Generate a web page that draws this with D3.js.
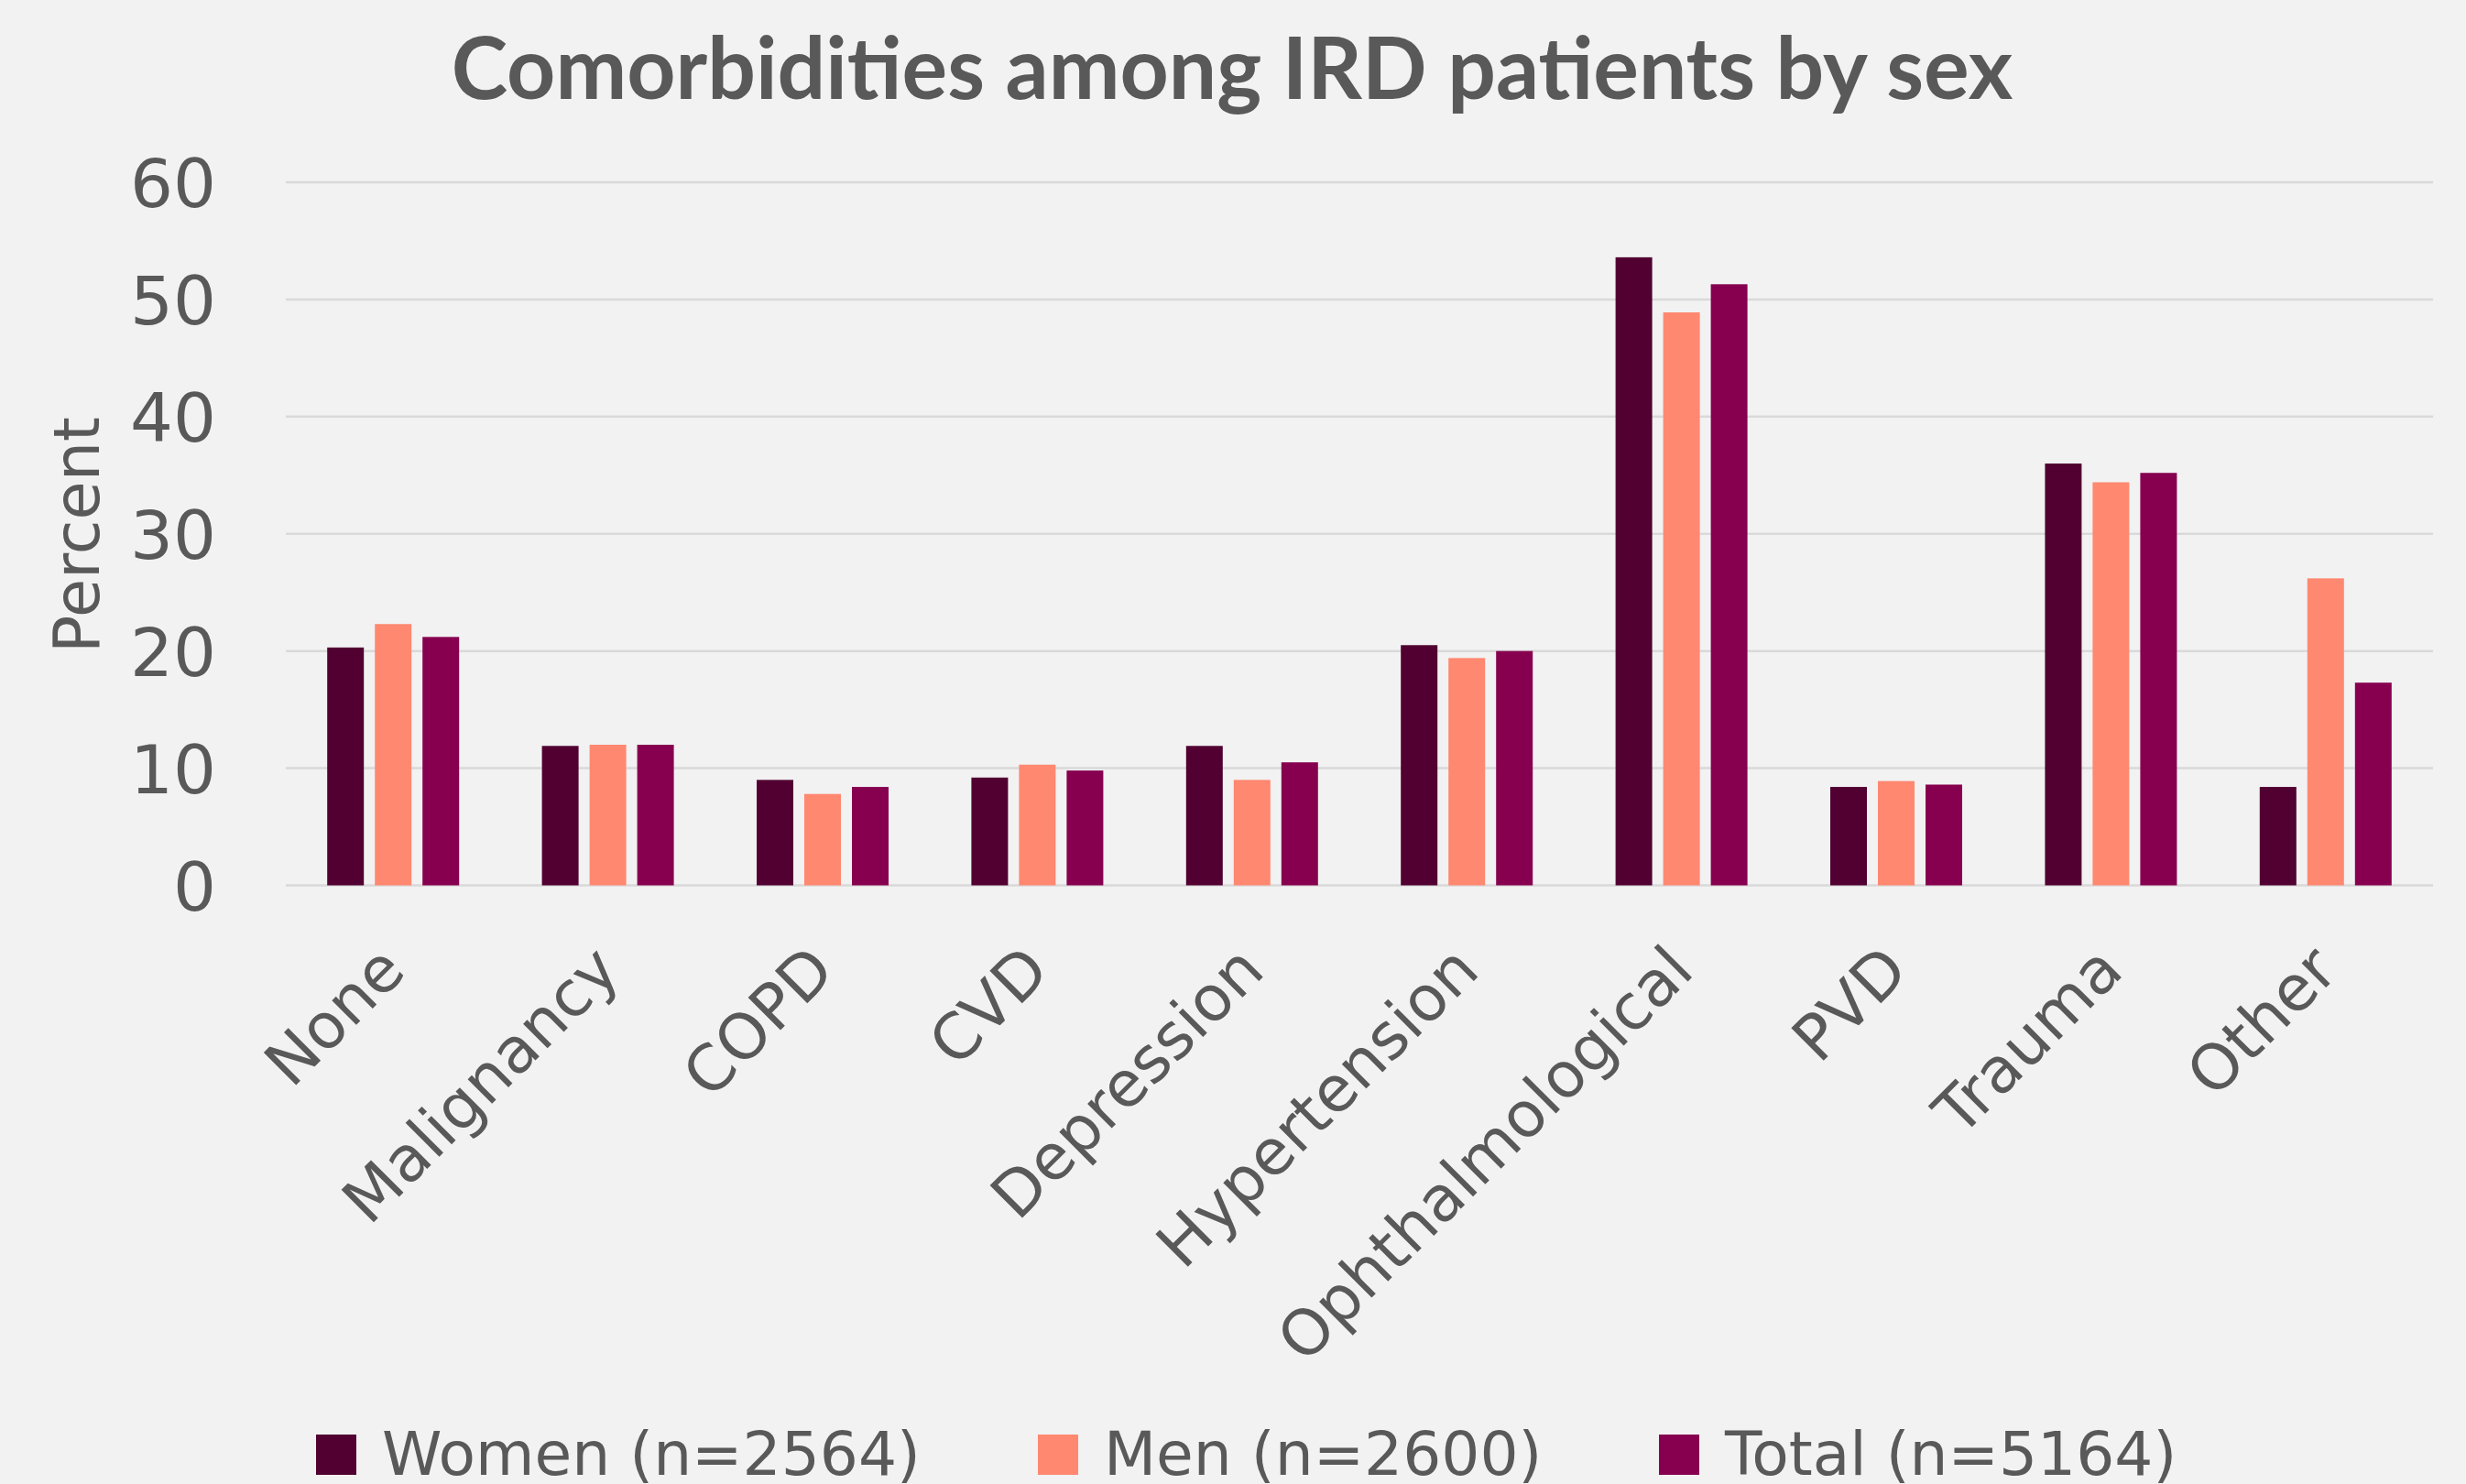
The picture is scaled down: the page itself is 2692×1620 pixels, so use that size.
<!DOCTYPE html>
<html><head><meta charset="utf-8">
<script src="https://cdn.jsdelivr.net/npm/d3@7"></script>
<style>html,body{margin:0;padding:0;background:#f2f2f2;}svg{display:block;}</style>
</head><body>
<script>
const categories = ["None","Malignancy","COPD","CVD","Depression","Hypertension","Ophthalmological","PVD","Trauma","Other"];
const seriesNames = ["Women (n=2564)","Men (n=2600)","Total (n=5164)"];
const women = [20.3,11.9,9.0,9.2,11.9,20.5,53.6,8.4,36.0,8.4];
const men   = [22.3,12.0,7.8,10.3,9.0,19.4,48.9,8.9,34.4,26.2];
const total = [21.2,12.0,8.4,9.8,10.5,20.0,51.3,8.6,35.2,17.3];
const yTicks = [0,10,20,30,40,50,60];
const colors = ["#510031","#ff8870","#870050"];
const titleText = "Comorbidities among IRD patients by sex";
const yTitle = "Percent";

const W = 2692, H = 1620;
const m = {left:312, right:W-2656, top:199, bottom:H-966.5};
const svg = d3.select("body").append("svg").attr("width",W).attr("height",H);
svg.append("rect").attr("width",W).attr("height",H).attr("fill","#f2f2f2");
const font = "'DejaVu Sans', Lato, sans-serif";
const tfont = "Lato, 'Open Sans', sans-serif";
const txt = "#595959";

function fit(sel, base, target){
  sel.attr("font-size", base);
  const w = sel.node().getComputedTextLength();
  const s = base*target/w;
  sel.attr("font-size", s);
  return s;
}

const y = d3.scaleLinear().domain([0,60]).range([H-m.bottom, m.top]);
const x0 = d3.scaleBand().domain(categories).range([m.left, W-m.right]).paddingInner(0.3857).paddingOuter(0.3857/2);
const x1 = d3.scaleBand().domain(seriesNames).range([0, x0.bandwidth()]).paddingInner(0.2308);

// gridlines
svg.append("g").selectAll("line").data(yTicks).join("line")
  .attr("x1", m.left).attr("x2", W-m.right)
  .attr("y1", d=>y(d)).attr("y2", d=>y(d))
  .attr("stroke","#d9d9d9").attr("stroke-width",2.5);

// y axis labels
const yAxis = d3.axisLeft(y).tickValues(yTicks).tickSize(0).tickPadding(0);
const gy = svg.append("g").attr("transform",`translate(${236},0)`).call(yAxis);
gy.select(".domain").remove();
const ytxt = gy.selectAll("text").attr("font-family",font).attr("fill",txt).attr("dy","0.36em");
const ys = fit(gy.select(".tick:last-of-type text"), 64, 94);
ytxt.attr("font-size", ys);

// bars
const data = [women,men,total];
const groups = svg.append("g").selectAll("g").data(categories).join("g")
  .attr("transform", d=>`translate(${x0(d)},0)`);
groups.selectAll("rect").data((c,i)=>seriesNames.map((s,j)=>({s, v:data[j][i], j})))
  .join("rect")
  .attr("x", d=>x1(d.s)).attr("width", x1.bandwidth())
  .attr("y", d=>y(d.v)).attr("height", d=>y(0)-y(d.v))
  .attr("fill", d=>colors[d.j]);

// x axis labels
const xAxis = d3.axisBottom(x0).tickSize(0).tickPadding(0);
const gx = svg.append("g").attr("transform",`translate(0,${y(0)})`).call(xAxis);
gx.select(".domain").remove();
const xt = gx.selectAll("text").attr("font-family",font).attr("fill",txt)
  .attr("text-anchor","end").attr("dy",0)
  .attr("transform","translate(16,96) rotate(-45)");
const longest = gx.selectAll("text").filter(d=>d==="Ophthalmological");
const xs = fit(longest, 60, 455/Math.SQRT1_2*0.94);
xt.attr("font-size", xs);

// y title
const yt = svg.append("text").attr("transform","translate(108,584) rotate(-90)")
  .attr("text-anchor","middle").attr("font-family",font).attr("fill",txt).text(yTitle);
fit(yt, 60, 258);

// title
const t = svg.append("text").attr("x",1345).attr("y",108).attr("text-anchor","middle")
  .attr("font-family",tfont).attr("font-weight","bold").attr("fill",txt).text(titleText);
fit(t, 80, 1705);

// legend
const legX = [345,1133,1811];
const lg = svg.append("g").selectAll("g").data(seriesNames).join("g")
  .attr("transform",(d,i)=>`translate(${legX[i]},1566)`);
lg.append("rect").attr("width",44).attr("height",44).attr("fill",(d,i)=>colors[i]);
const lt = lg.append("text").attr("x",72).attr("y",44).attr("font-family",font).attr("fill",txt).text(d=>d);
const ls = fit(d3.select(lt.nodes()[0]), 60, 588);
lt.attr("font-size", ls);
</script>
</body></html>
